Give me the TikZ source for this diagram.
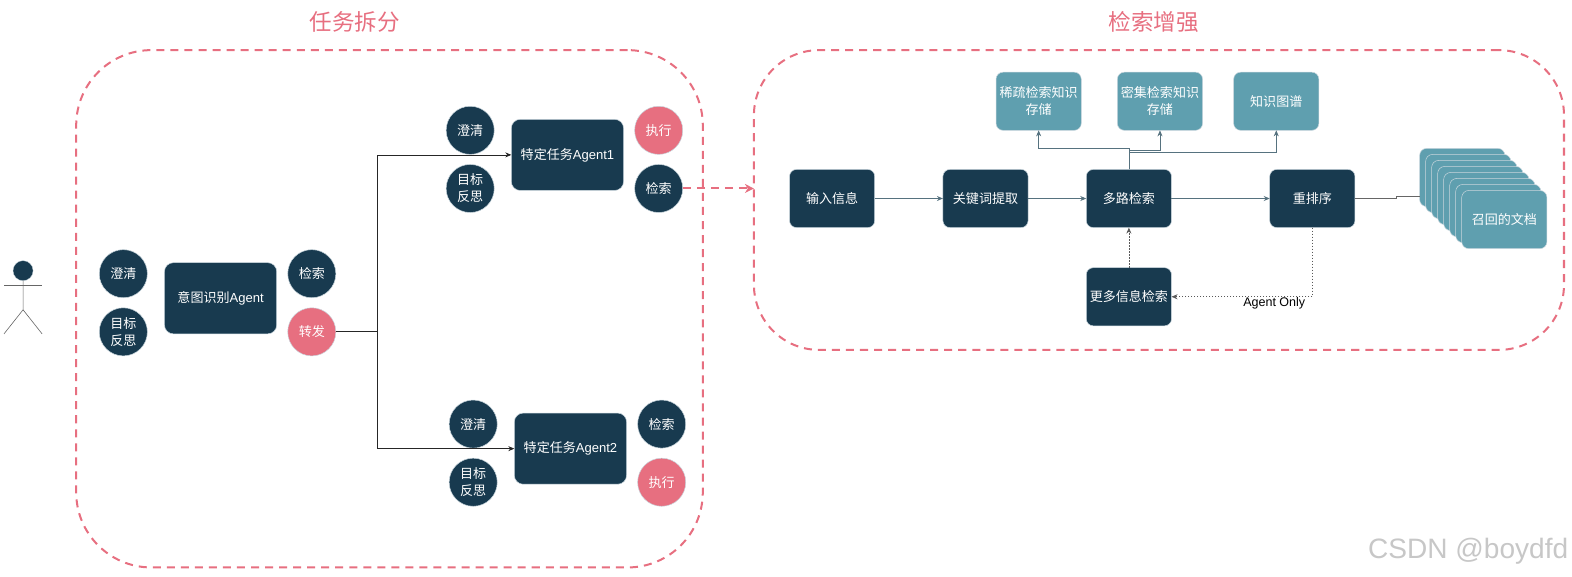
\documentclass[tikz,border=0pt]{standalone}
\usepackage{fontspec}
\setmainfont{Noto Sans CJK SC}
\newfontfamily\latinfont{Liberation Sans}
\usetikzlibrary{positioning}
\usetikzlibrary{arrows.meta}
\definecolor{darknavy}{HTML}{183A4F}
\definecolor{softteal}{HTML}{5F9FAF}
\definecolor{softpink}{HTML}{E76F80}
\definecolor{edgeline}{HTML}{C9D6DD}
\definecolor{flowline}{HTML}{56727F}
\newcommand{\lat}[1]{{\latinfont #1}}
\tikzset{
	x=1pt, y=1pt,
	every node/.style={outer sep=0pt, inner sep=0pt, text=white, align=center, font=\fontsize{13}{17}\selectfont},
	agentbox/.style={rectangle, rounded corners=9pt, draw=edgeline, line width=.5pt, fill=darknavy, minimum width=112pt, minimum height=71pt},
	flowbox/.style={rectangle, rounded corners=7pt, draw=edgeline, line width=.5pt, fill=darknavy, minimum width=85pt, minimum height=58pt},
	storebox/.style={flowbox, fill=softteal},
	darkbtn/.style={circle, draw=edgeline, line width=.5pt, fill=darknavy, minimum size=48pt},
	pinkbtn/.style={darkbtn, fill=softpink},
	dashregion/.style={rectangle, draw=softpink, line width=2pt, dash pattern=on 8pt off 6pt},
	titletext/.style={text=softpink, font=\fontsize{22.5}{26}\selectfont},
	flowarrow/.style={draw=flowline, line width=.7pt, -{Stealth[length=6pt,width=5pt]}},
	dotarrow/.style={draw=black!65, line width=.7pt, dash pattern=on 1.5pt off 1.5pt, -{Stealth[length=6pt,width=5pt]}},
}

\begin{document}
\begin{tikzpicture}
		\useasboundingbox (0,0) rectangle (1568,-575.5);
		% regions
		\node [dashregion, rounded corners=75pt, minimum width=625pt, minimum height=516pt] at (388.5,-308) (taskRegion) {};
		\node [dashregion, rounded corners=65pt, minimum width=808pt, minimum height=299pt] at (1156,-199.5) (searchRegion) {};
		\node [titletext] at (354,-22) (taskTitle) {任务拆分};
		\node [titletext] at (1151,-22) (searchTitle) {检索增强};
		% person
		\node [circle, fill=darknavy, draw=edgeline, line width=.3pt, minimum size=20pt] at (23,-270) (head) {};
		\draw [draw=black!60, line width=.6pt] (head.south) -- (23,-309) -- (4,-333);
		\draw [draw=black!60, line width=.6pt] (23,-309) -- (42,-333);
		\draw [draw=black!60, line width=.6pt] (4,-285) -- (42,-285);
		% intent agent
		\node [agentbox] at (220,-297.5) (intent) {意图识别\lat{Agent}};
		\node [darkbtn] at (123,-273) (clarify0) {澄清};
		\node [darkbtn, below=10pt of clarify0] (reflect0) {目标\\反思};
		\node [darkbtn] at (311,-273) (search0) {检索};
		\node [pinkbtn, below=10pt of search0] (forward) {转发};
		% task agent 1
		\node [agentbox] at (566,-154.5) (agent1) {特定任务\lat{Agent1}};
		\node [darkbtn] at (469,-130) (clarify1) {澄清};
		\node [darkbtn, below=10pt of clarify1] (reflect1) {目标\\反思};
		\node [pinkbtn] at (657,-130) (exec1) {执行};
		\node [darkbtn, below=10pt of exec1] (search1) {检索};
		% task agent 2
		\node [agentbox] at (569,-447.5) (agent2) {特定任务\lat{Agent2}};
		\node [darkbtn] at (472,-423) (clarify2) {澄清};
		\node [darkbtn, below=10pt of clarify2] (reflect2) {目标\\反思};
		\node [darkbtn] at (660,-423) (search2) {检索};
		\node [pinkbtn, below=10pt of search2] (exec2) {执行};
		% fork
		\coordinate (fork) at (376,-331);
		\draw [draw=black!85, line width=.7pt] (forward.east) -- (fork);
		\draw [draw=black!85, line width=.7pt, -{Stealth[length=6pt,width=5pt]}] (fork) |- (agent1.west);
		\draw [draw=black!85, line width=.7pt, -{Stealth[length=6pt,width=5pt]}] (fork) |- (agent2.west);
		\draw [draw=softpink, line width=2pt, dash pattern=on 8pt off 6pt, -{Stealth[length=9pt,width=9pt]}] (search1.east) -- (searchRegion.west |- search1.east);
		% search flow
		\node [flowbox] at (830,-198) (input) {输入信息};
		\node [flowbox, right=68pt of input] (keyword) {关键词提取};
		\node [flowbox, right=58pt of keyword] (multi) {多路检索};
		\node [flowbox, right=98pt of multi] (rerank) {重排序};
		\node [flowbox, below=40pt of multi] (more) {更多信息检索};
		\node [storebox] at (1036,-101) (sparse) {稀疏检索知识\\存储};
		\node [storebox, right=36pt of sparse] (dense) {密集检索知识\\存储};
		\node [storebox, right=31pt of dense] (graph) {知识图谱};
		\draw [flowarrow] (input) -- (keyword);
		\draw [flowarrow] (keyword) -- (multi);
		\draw [flowarrow] (multi) -- (rerank);
		\draw [flowarrow] (multi.north) -- ++(0,21) -| (sparse.south);
		\draw [flowarrow] (multi.north) -- ++(0,19.5) -| (dense.south);
		\draw [flowarrow] (multi.north) -- ++(0,17.5) -| (graph.south);
		\draw [dotarrow] (more) -- (multi);
		\draw [dotarrow] (rerank.south) |- (more.east);
		\node [text=black, font=\latinfont\fontsize{12.5}{15}\selectfont] at (1271,-302.5) (agentOnly) {Agent Only};
		% recalled documents
		\node [storebox] at (1458.5,-177) (doc1) {};
		\node [storebox] at (1464.5,-183) (doc2) {};
		\node [storebox] at (1470.5,-189) (doc3) {};
		\node [storebox] at (1476.5,-195) (doc4) {};
		\node [storebox] at (1482.5,-201) (doc5) {};
		\node [storebox] at (1488.5,-207) (doc6) {};
		\node [storebox] at (1494.5,-213) (doc7) {};
		\node [storebox] at (1500.5,-219) (doc8) {召回的文档};
		\coordinate (jogA) at (1393,-198);
		\coordinate (jogB) at (1393,-195.5);
		\draw [draw=black!60, line width=.7pt] (rerank.east) -- (jogA) -- (jogB) -- (doc1.west |- jogB);
		% watermark
		\node [text=black!22, font=\latinfont\fontsize{28}{32}\selectfont] at (1464.5,-549.5) (mark) {CSDN @boydfd};
\end{tikzpicture}
\end{document}
